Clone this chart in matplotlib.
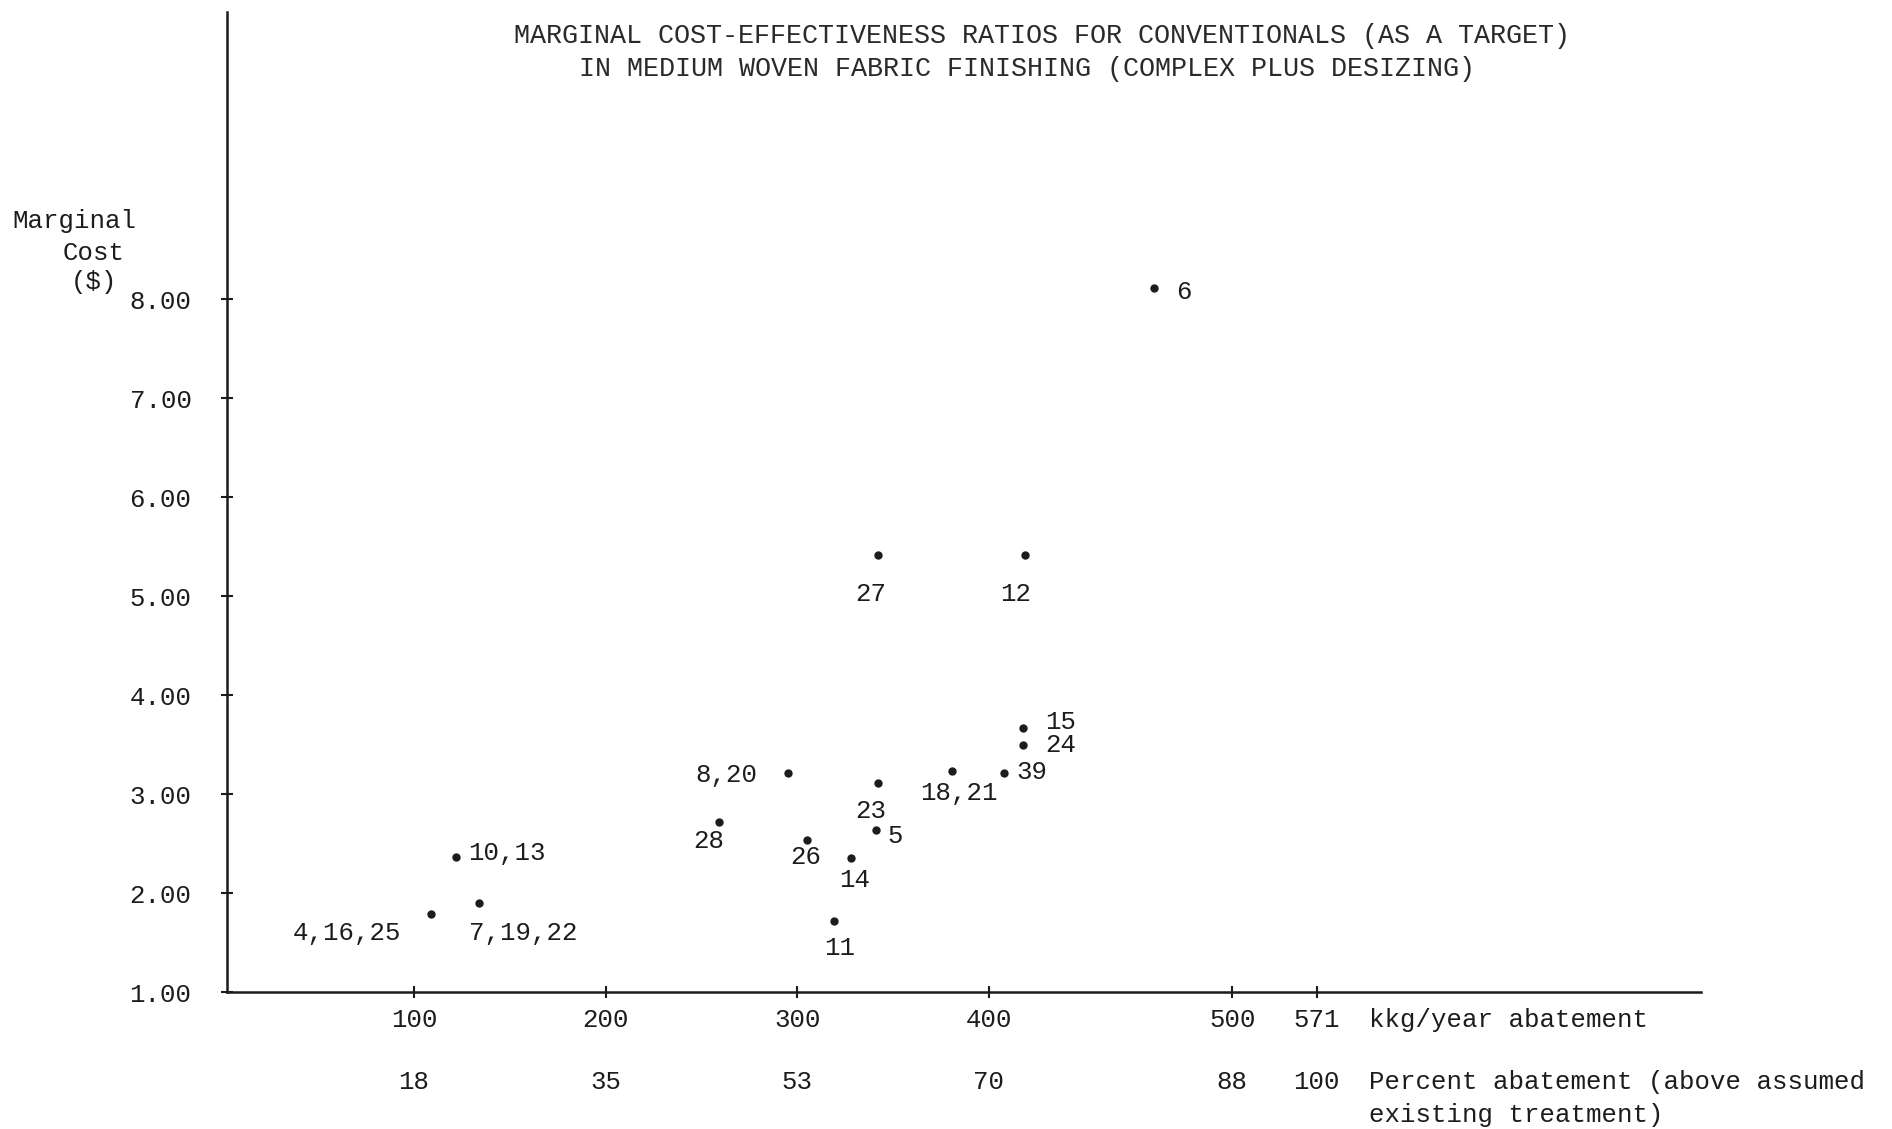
import matplotlib
matplotlib.use("Agg")
import matplotlib.pyplot as plt

# data
point_labels = ["4,16,25", "7,19,22", "10,13", "28", "8,20", "26", "11", "14",
                "23", "5", "27", "18,21", "39", "12", "15", "24", "6"]
abatement = [109, 134, 122, 259, 295, 305, 319, 328,
             342, 341, 342, 381, 408, 419, 418, 418, 486]
marginal_cost = [1.79, 1.90, 2.36, 2.72, 3.21, 2.54, 1.72, 2.35,
                 3.11, 2.64, 5.41, 3.23, 3.21, 5.41, 3.67, 3.50, 8.11]

x_ticks = [100, 200, 300, 400, 527, 571]   # the "500" tick sits off-scale in the original
x_tick_labels = ["100", "200", "300", "400", "500", "571"]
pct_labels = ["18", "35", "53", "70", "88", "100"]
y_ticks = [1, 2, 3, 4, 5, 6, 7, 8]
y_tick_labels = ["1.00", "2.00", "3.00", "4.00", "5.00", "6.00", "7.00", "8.00"]

# label placement: (dx, dy) in pixels from the dot, horizontal alignment
label_style = {
    "4,16,25": (-30, -19, "right"),
    "7,19,22": (-10, -30, "left"),
    "10,13": (12, 4, "left"),
    "28": (-10, -19, "center"),
    "8,20": (-30, -2, "right"),
    "26": (-1, -17, "center"),
    "11": (6, -27, "center"),
    "14": (4, -22, "center"),
    "23": (-7, -28, "center"),
    "5": (12, -6, "left"),
    "27": (-7, -39, "center"),
    "18,21": (6, -22, "center"),
    "39": (12, 1, "left"),
    "12": (-10, -39, "center"),
    "15": (22, 6, "left"),
    "24": (22, 0, "left"),
    "6": (22, -4, "left"),
}

plt.rcParams['font.family'] = ['Liberation Mono', 'DejaVu Sans Mono']
ink = '#1c1c1c'
fs = 18.5

W, H = 1892, 1129
fig = plt.figure(figsize=(W / 100, H / 100), dpi=100)
ax = fig.add_axes([227 / W, (H - 992) / H, (1701 - 227) / W, (992 - 12) / H])

ax.plot(abatement, marginal_cost, 'o', color=ink, markersize=5)
for lab, xv, yv in zip(point_labels, abatement, marginal_cost):
    dx, dy, ha = label_style[lab]
    ax.annotate(lab, (xv, yv), xytext=(dx, dy), textcoords='offset pixels',
                ha=ha, va='center', fontsize=fs, color=ink)

ax.set_xlim(2.5, 771.5)
ax.set_ylim(1.0, 10.9)
for s in ['top', 'right']:
    ax.spines[s].set_visible(False)
for s in ['left', 'bottom']:
    ax.spines[s].set_linewidth(1.8)
    ax.spines[s].set_color(ink)

ax.set_xticks(x_ticks)
ax.set_xticklabels(x_tick_labels)
ax.set_yticks(y_ticks)
ax.set_yticklabels(y_tick_labels)
ax.tick_params(axis='both', direction='inout', length=9, width=1.5, color=ink,
               labelsize=fs, labelcolor=ink)
ax.tick_params(axis='y', pad=21)
ax.tick_params(axis='x', pad=7)

# second row of x labels: percent abatement
for xv, lab in zip(x_ticks, pct_labels):
    ax.text(xv, -0.092, lab, transform=ax.get_xaxis_transform(),
            ha='center', va='center', fontsize=fs, color=ink)

fig.text(1369 / W, 1 - 1020 / H, "kkg/year abatement", ha='left', va='center',
         fontsize=fs, color=ink)
fig.text(1369 / W, 1 - 1082 / H, "Percent abatement (above assumed", ha='left',
         va='center', fontsize=fs, color=ink)
fig.text(1369 / W, 1 - 1115 / H, "existing treatment)", ha='left', va='center',
         fontsize=fs, color=ink)

fig.text(12 / W, 1 - 221 / H, "Marginal", ha='left', va='center', fontsize=fs, color=ink)
fig.text(94 / W, 1 - 253 / H, "Cost", ha='center', va='center', fontsize=fs, color=ink)
fig.text(94 / W, 1 - 282 / H, "($)", ha='center', va='center', fontsize=fs, color=ink)

fig.text(1042 / W, 1 - 36 / H,
         "MARGINAL COST-EFFECTIVENESS RATIOS FOR CONVENTIONALS (AS A TARGET)",
         ha='center', va='center', fontsize=19.3, color='#2a2a2a')
fig.text(1027 / W, 1 - 69 / H,
         "IN MEDIUM WOVEN FABRIC FINISHING (COMPLEX PLUS DESIZING)",
         ha='center', va='center', fontsize=19.3, color='#2a2a2a')

fig.savefig("out.png", dpi=100)
